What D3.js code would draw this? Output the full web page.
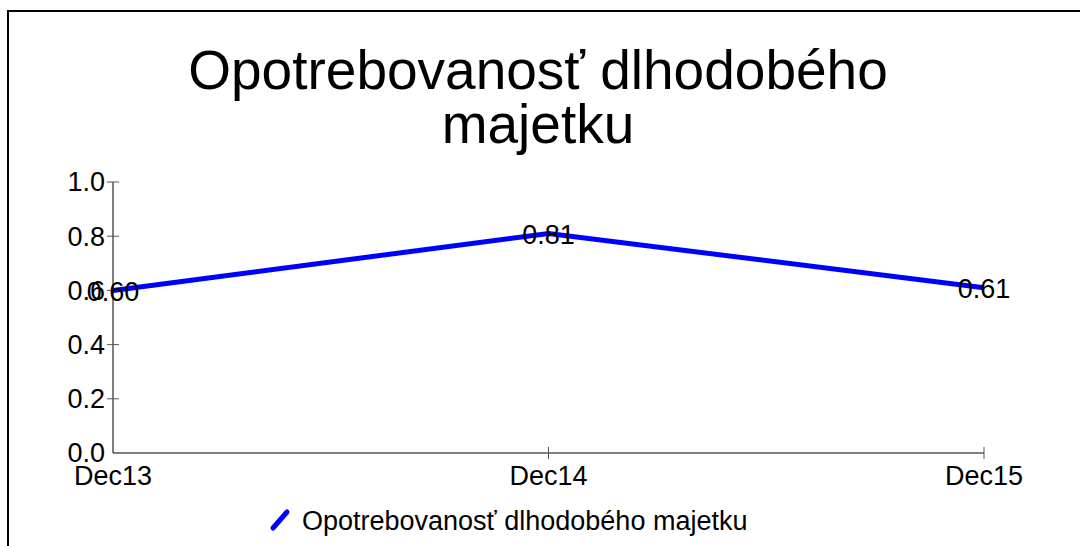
<!DOCTYPE html>
<meta charset="utf-8">
<body style="margin:0;background:#fff">
<script src="https://d3js.org/d3.v7.min.js"></script>
<script>
var categories = ["Dec13", "Dec14", "Dec15"],
    values = [0.60, 0.81, 0.61],
    yTicks = [0, 0.2, 0.4, 0.6, 0.8, 1.0],
    seriesName = "Opotrebovanosť dlhodobého majetku",
    titleLines = ["Opotrebovanosť dlhodobého", "majetku"];

var width = 1080,
    height = 546,
    font = "'Liberation Sans', Arial, sans-serif",
    fs = 27;

var svg = d3.select("body").append("svg")
    .attr("width", width)
    .attr("height", height)
    .style("display", "block")
    .style("font-family", font);

// outer frame, runs off right and bottom
svg.append("rect")
    .attr("x", 8).attr("y", 11)
    .attr("width", 1200).attr("height", 700)
    .attr("fill", "none")
    .attr("stroke", "#000")
    .attr("stroke-width", 2);

svg.append("text")
    .attr("text-anchor", "middle")
    .attr("font-size", 55)
    .selectAll("tspan")
    .data(titleLines)
    .enter().append("tspan")
      .attr("x", 538)
      .attr("y", function(d, i) { return 89 + i * 54; })
      .text(function(d) { return d; });

var x = d3.scalePoint()
    .domain(categories)
    .range([113, 984]);

var y = d3.scaleLinear()
    .domain([0, 1])
    .range([453, 182]);

// y axis
var yAxis = svg.append("g");
yAxis.append("line")
    .attr("x1", 113).attr("x2", 113)
    .attr("y1", y(1)).attr("y2", y(0))
    .attr("stroke", "#000");
yAxis.selectAll("line.tick")
    .data(yTicks.slice(1))
    .enter().append("line")
      .attr("class", "tick")
      .attr("x1", 107).attr("x2", 119)
      .attr("y1", function(d) { return y(d); })
      .attr("y2", function(d) { return y(d); })
      .attr("stroke", "#555");
yAxis.selectAll("text")
    .data(yTicks)
    .enter().append("text")
      .attr("x", 105)
      .attr("y", function(d) { return y(d); })
      .attr("dy", "0.35em")
      .attr("text-anchor", "end")
      .attr("font-size", fs)
      .text(function(d) { return d.toFixed(1); });

// x axis
var xAxis = svg.append("g");
xAxis.append("line")
    .attr("x1", 113).attr("x2", 984)
    .attr("y1", y(0)).attr("y2", y(0))
    .attr("stroke", "#000");
xAxis.selectAll("line.tick")
    .data(categories.slice(1))
    .enter().append("line")
      .attr("class", "tick")
      .attr("x1", function(d) { return x(d); })
      .attr("x2", function(d) { return x(d); })
      .attr("y1", y(0) - 6).attr("y2", y(0) + 6)
      .attr("stroke", "#555");
xAxis.selectAll("text")
    .data(categories)
    .enter().append("text")
      .attr("x", function(d) { return x(d); })
      .attr("y", 485)
      .attr("text-anchor", "middle")
      .attr("font-size", fs)
      .text(function(d) { return d; });

var line = d3.line()
    .x(function(d, i) { return x(categories[i]); })
    .y(function(d) { return y(d); });

svg.append("path")
    .datum(values)
    .attr("d", line)
    .attr("fill", "none")
    .attr("stroke", "#0000ff")
    .attr("stroke-width", 5);

svg.selectAll("text.val")
    .data(values)
    .enter().append("text")
      .attr("class", "val")
      .attr("x", function(d, i) { return x(categories[i]); })
      .attr("y", function(d) { return y(d) + 1; })
      .attr("dy", "0.35em")
      .attr("text-anchor", "middle")
      .attr("font-size", fs)
      .text(function(d) { return d.toFixed(2); });

// legend
var legend = svg.append("g");
legend.append("line")
    .attr("x1", 273).attr("y1", 528)
    .attr("x2", 287).attr("y2", 512)
    .attr("stroke", "#0000ff")
    .attr("stroke-width", 5)
    .attr("stroke-linecap", "round");
legend.append("text")
    .attr("x", 302).attr("y", 530)
    .attr("font-size", fs)
    .text(seriesName);
</script>
</body>
</html>
